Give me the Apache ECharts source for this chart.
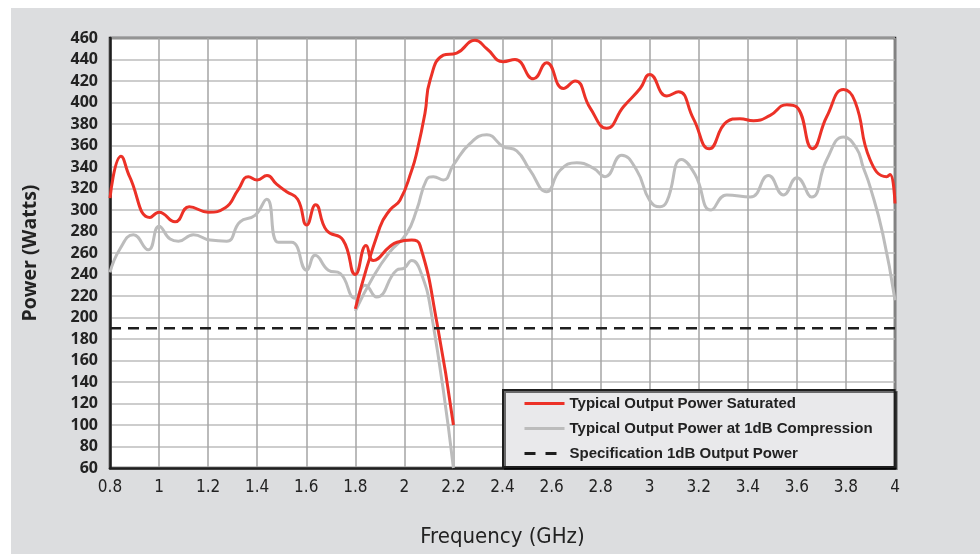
<!DOCTYPE html>
<html>
<head>
<meta charset="utf-8">
<script src="https://cdn.jsdelivr.net/npm/echarts@6/dist/echarts.min.js"></script>
<style>
  html, body { margin: 0; padding: 0; background: #ffffff; }
  #bg { position: absolute; left: 11px; top: 8px; width: 969px; height: 546px; background: #dcdddf; }
  #chart { position: absolute; left: 0; top: 0; width: 980px; height: 554px; }
</style>
</head>
<body>
<div id="bg"></div>
<div id="chart"></div>
<script>
// Frequency ticks / axis
const xMin = 0.8, xMax = 4.0, xStep = 0.2;
const yMin = 60, yMax = 460, yStep = 20;

// Typical Output Power Saturated - low band segment (0.8 - 2.2 GHz)
const satLowF = [0.8, 0.845, 0.88, 0.963, 1.0, 1.065, 1.123, 1.2, 1.27, 1.323, 1.364, 1.40, 1.44, 1.479, 1.52, 1.565, 1.602, 1.638, 1.683, 1.75, 1.80, 1.844, 1.873, 1.941, 1.97, 2.03, 2.064, 2.132, 2.2];
const satLowP = [311, 350, 331, 293, 298, 289, 303, 298, 302, 319, 331, 328, 332, 324, 317, 310, 286, 305, 281, 272, 240, 267, 253, 266, 270, 272, 267, 196, 100];

// Typical Output Power Saturated - high band segment (1.8 - 4.0 GHz)
const satHighF = [1.80, 1.90, 1.941, 1.982, 2.03, 2.05, 2.084, 2.105, 2.159, 2.213, 2.288, 2.336, 2.403, 2.451, 2.526, 2.58, 2.648, 2.696, 2.757, 2.825, 2.893, 2.961, 3.0, 3.07, 3.117, 3.178, 3.243, 3.314, 3.368, 3.423, 3.491, 3.559, 3.599, 3.664, 3.722, 3.79, 3.837, 3.898, 3.966, 3.98, 4.0];
const satHighP = [208, 284, 300, 309, 337, 353, 390, 421, 444, 446, 458, 450, 438, 440, 422, 437, 413, 420, 395, 376, 396, 413, 426, 406, 410, 385, 357, 382, 385, 383, 388, 398, 396, 357, 387, 412, 401, 347, 331, 333, 306];

// Typical Output Power at 1dB Compression - low band segment
const compLowF = [0.8, 0.841, 0.895, 0.956, 1.0, 1.045, 1.079, 1.14, 1.208, 1.276, 1.33, 1.391, 1.439, 1.486, 1.54, 1.602, 1.636, 1.69, 1.738, 1.80, 1.84, 1.887, 1.969, 2.0, 2.03, 2.064, 2.11, 2.2];
const compLowP = [242, 264, 277, 263, 285, 273, 271, 277, 272, 271, 289, 295, 310, 270, 270, 244, 258, 244, 241, 218, 230, 219, 244, 246, 253, 244, 204, 60];

// Typical Output Power at 1dB Compression - high band segment
const compHighF = [1.80, 1.873, 1.941, 2.009, 2.05, 2.09, 2.118, 2.159, 2.2, 2.268, 2.336, 2.403, 2.458, 2.512, 2.58, 2.635, 2.703, 2.77, 2.818, 2.886, 2.947, 3.0, 3.042, 3.07, 3.13, 3.185, 3.25, 3.314, 3.41, 3.484, 3.545, 3.6, 3.66, 3.722, 3.79, 3.844, 3.87, 3.898, 3.95, 4.0];
const compHighP = [206, 238, 261, 278, 300, 328, 331, 328, 342, 362, 370, 359, 355, 337, 317, 337, 344, 339, 331, 351, 337, 309, 303, 308, 347, 333, 300, 314, 312, 332, 314, 330, 312, 347, 368, 357, 340, 322, 278, 216];

// Specification 1dB Output Power
const specF = [0.8, 4.0];
const specP = [190, 190];

const names = ['Typical Output Power Saturated', 'Typical Output Power at 1dB Compression', 'Specification 1dB Output Power'];

const zip = (f, p) => f.map((v, i) => [v, p[i]]);

const RED = '#ec3127';
const GRAY = '#bcbcbc';
const DARK = '#1e1e1e';

const lineSeries = (name, data, color, z) => ({
  name: name, type: 'line', data: data, smooth: 0.5,
  symbol: 'none', z: z,
  lineStyle: { color: color, width: 3 }, itemStyle: { color: color }
});

const chart = echarts.init(document.getElementById('chart'));
chart.setOption({
  backgroundColor: 'transparent',
  animation: false,
  grid: {
    left: 110, right: 85, top: 38, bottom: 86,
    show: true, backgroundColor: '#ffffff', borderColor: DARK, borderWidth: 2.5
  },
  legend: {
    orient: 'vertical', left: 503, top: 390,
    padding: [6, 22, 6, 20],
    itemWidth: 40, itemHeight: 14, itemGap: 10,
    backgroundColor: '#e9e9eb', borderColor: DARK, borderWidth: 2,
    shadowColor: 'rgba(0,0,0,0.55)', shadowOffsetX: 2, shadowOffsetY: 2, shadowBlur: 0,
    itemStyle: { color: 'transparent', borderColor: 'transparent', borderWidth: 0 },
    lineStyle: { width: 3 },
    textStyle: { fontFamily: 'Liberation Sans, Arial, sans-serif', fontWeight: 'bold', fontSize: 15, color: '#222' },
    data: [
      { name: names[0] },
      { name: names[1] },
      { name: names[2], lineStyle: { type: [11, 10], width: 3 } }
    ]
  },
  xAxis: {
    type: 'value', min: xMin, max: xMax, interval: xStep,
    name: 'Frequency (GHz)', nameLocation: 'middle', nameGap: 58,
    nameTextStyle: { fontFamily: 'Liberation Sans Narrow, DejaVu Sans Condensed, sans-serif', fontSize: 22, color: '#222' },
    axisLine: { show: true, lineStyle: { color: DARK, width: 2.5 } },
    axisTick: { show: false },
    axisLabel: { margin: 11, fontFamily: 'Liberation Sans Narrow, DejaVu Sans Condensed, sans-serif', fontSize: 17, color: '#222',
      formatter: v => String(Math.round(v * 10) / 10) },
    splitLine: { show: true, lineStyle: { color: '#a4a4a4', width: 1.5 } }
  },
  yAxis: {
    type: 'value', min: yMin, max: yMax, interval: yStep,
    name: 'Power (Watts)', nameLocation: 'middle', nameGap: 70, nameRotate: 90,
    nameTextStyle: { fontFamily: 'Open Sans, sans-serif', fontWeight: 'bold', fontSize: 19.5, color: '#222' },
    axisLine: { show: true, lineStyle: { color: DARK, width: 2.5 } },
    axisTick: { show: false },
    axisLabel: { margin: 12, fontFamily: 'Open Sans, sans-serif', fontWeight: 'bold', fontSize: 16, color: '#222' },
    splitLine: { show: true, lineStyle: { color: '#bdbdbd', width: 1.5 } }
  },
  series: [
    lineSeries(names[1], zip(compLowF, compLowP), GRAY, 2),
    lineSeries(names[1], zip(compHighF, compHighP), GRAY, 2),
    lineSeries(names[0], zip(satLowF, satLowP), RED, 3),
    lineSeries(names[0], zip(satHighF, satHighP), RED, 3),
    {
      name: names[2], type: 'line', data: zip(specF, specP), symbol: 'none', z: 4,
      lineStyle: { color: DARK, width: 2.5, type: [11, 7] }, itemStyle: { color: DARK }
    }
  ]
});
</script>
</body>
</html>
